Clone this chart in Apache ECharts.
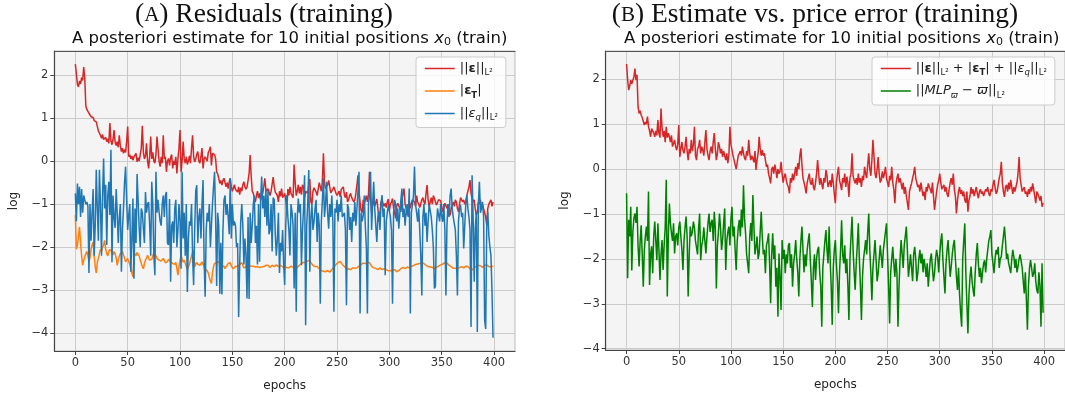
<!DOCTYPE html>
<html><head><meta charset="utf-8">
<script src="https://cdn.jsdelivr.net/npm/echarts@6/dist/echarts.min.js"></script>
<style>html,body{margin:0;padding:0;background:#fff}#c{width:1065px;height:400px}</style>
</head><body><div id="c"></div>
<script>
// ---------- DATA ----------
const xTicks = [0, 50, 100, 150, 200, 250, 300, 350, 400];
const yTicks = [-4, -3, -2, -1, 0, 1, 2];

// Panel A: ||eps||_L2 (red)
const resEps = [
 2.25,2.02,1.78,1.72,1.86,1.79,1.94,1.87,2.18,1.93,
 1.28,1.2,1.16,1.11,1.08,1.03,0.99,1.01,0.94,0.96,
 0.91,0.95,0.7,0.74,0.6,0.53,0.62,0.5,0.47,0.55,
 0.45,0.52,0.41,0.88,0.47,0.38,0.5,0.72,0.44,0.36,
 0.45,0.32,0.6,0.35,0.22,0.3,0.18,0.27,0.2,0.45,
 0.8,0.1,0.15,0.05,0.12,0.02,0.1,0.06,0.18,-0.02,
 0.08,0.0,0.15,0.3,0.82,0.2,0.05,0.12,0.41,0.0,
 -0.17,0.1,0.57,0.05,0.2,0.0,-0.05,0.15,0.57,0.28,
 0.0,-0.13,0.1,-0.05,0.6,0.05,0.1,-0.25,0.0,0.06,
 -0.1,0.08,0.15,-0.17,0.0,-0.09,0.1,-0.29,0.05,0.3,
 0.72,-0.25,0.0,0.45,0.05,-0.05,0.1,-0.08,0.0,0.12,
 -0.05,0.3,0.6,0.1,-0.02,0.05,0.15,0.22,0.0,-0.05,
 0.1,0.3,-0.17,0.05,0.1,0.14,0.0,0.2,0.25,0.33,
 -0.1,0.18,0.2,0.15,0.05,-0.25,-0.3,-0.4,-0.52,-0.45,
 -0.56,-0.45,-0.4,-0.4,-0.6,-0.5,-0.64,-0.48,-0.4,-0.6,
 -0.7,-0.71,-0.55,-0.66,-0.63,-0.72,-0.6,-0.78,-0.62,-0.7,
 -0.55,-0.48,-0.6,-0.65,-0.6,-0.45,-0.29,0.14,-0.35,-0.7,
 -0.75,-0.85,-0.95,-0.8,-0.7,-0.86,-0.75,-0.9,-0.88,-0.75,
 -0.6,-0.4,-0.65,-0.7,-0.64,-0.72,-0.8,-0.7,-0.73,-0.37,
 -0.6,-0.72,-0.73,-0.8,-0.95,-0.7,-0.82,-0.64,-0.85,-0.87,
 -0.75,-0.9,-1.18,-0.65,-0.8,-0.6,-0.75,-0.72,-0.85,-0.08,
 -0.5,-0.8,-0.7,-0.55,-0.75,-0.6,-0.78,-0.55,-0.6,-0.85,
 -0.7,-0.68,-0.75,-0.55,-0.42,-0.95,-1.0,-0.7,-0.62,-0.6,
 -0.72,-0.8,-0.78,-0.5,-0.48,-0.7,-0.45,0.18,-0.5,-0.64,
 -0.62,-0.55,-0.45,-0.6,-0.74,-0.72,-0.65,-0.6,-0.64,-0.75,
 -0.8,-0.84,-0.7,-0.83,-0.66,-0.64,-0.6,-0.78,-0.85,-0.72,
 -0.95,-0.9,-0.8,-0.75,-0.85,-0.87,-0.95,-0.9,-0.75,-0.55,
 -0.33,-0.7,-0.95,-1.15,-1.2,-0.9,-1.0,-1.02,-0.8,-0.95,
 -0.78,-0.25,-0.85,-1.2,-1.0,-0.92,-1.05,-1.02,-0.88,-1.1,
 -1.41,-1.2,-0.95,-0.9,-1.0,-1.05,-0.98,-1.08,-0.95,-0.88,
 -1.15,-1.0,-0.95,-0.87,-1.1,-1.2,-1.33,-1.05,-0.98,-0.95,
 -1.1,-1.18,-0.9,-0.75,-0.64,-1.0,-1.1,-1.26,-1.05,-0.95,
 -1.1,-0.98,-0.9,-0.87,-0.95,-1.05,-0.8,-0.95,-1.0,-1.08,
 -1.1,-0.9,-0.85,-0.95,-1.0,-0.75,-0.56,-0.9,-1.05,-0.95,
 -0.85,-1.0,-0.8,-0.79,-0.95,-1.02,-1.05,-0.9,-0.87,-0.92,
 -1.05,-1.18,-1.15,-0.98,-0.95,-1.1,-1.0,-1.2,-1.26,-1.1,
 -1.02,-0.95,-1.05,-0.9,-0.95,-1.1,-1.18,-1.0,-0.85,-0.87,
 -0.95,-0.9,-1.0,-0.95,-0.8,-0.7,-0.6,-0.44,-0.75,-0.87,
 -0.95,-0.9,-1.1,-1.26,-1.2,-0.95,-1.0,-0.9,-1.1,-1.02,
 -1.0,-1.2,-1.3,-1.49,-1.1,-1.0,-1.02,-0.9,-1.05,-0.95
];

// Panel A: |eps_T| (orange)
const resEpsT = [
 -1.25,-2.05,-1.95,-1.75,-1.53,-1.9,-2.2,-2.42,-2.3,-2.26,
 -2.15,-2.1,-2.2,-2.32,-2.25,-2.05,-1.95,-1.88,-2.2,-2.45,
 -2.6,-2.35,-2.26,-2.15,-2.05,-2.1,-2.0,-1.95,-1.84,-2.05,
 -2.15,-2.2,-2.1,-2.05,-2.03,-2.12,-2.18,-2.1,-2.15,-2.25,
 -2.42,-2.3,-2.2,-2.15,-2.12,-2.1,-2.18,-2.25,-2.34,-2.3,
 -2.26,-2.3,-2.4,-2.5,-2.6,-2.69,-2.2,-2.15,-2.2,-2.12,
 -2.1,-2.2,-2.3,-2.34,-2.45,-2.5,-2.38,-2.3,-2.25,-2.19,
 -2.25,-2.3,-2.34,-2.28,-2.2,-2.12,-2.11,-2.2,-2.26,-2.25,
 -2.3,-2.34,-2.32,-2.28,-2.26,-2.3,-2.36,-2.32,-2.34,-2.28,
 -2.3,-2.33,-2.3,-2.38,-2.42,-2.4,-2.35,-2.5,-2.65,-2.45,
 -2.3,-2.19,-2.28,-2.35,-2.3,-2.34,-2.45,-2.52,-2.5,-2.4,
 -2.3,-2.2,-2.12,-2.07,-2.45,-2.4,-2.35,-2.4,-2.38,-2.42,
 -2.38,-2.34,-2.4,-2.45,-2.5,-2.48,-2.55,-2.6,-2.7,-2.78,
 -2.84,-2.6,-2.45,-2.38,-2.4,-2.35,-2.38,-2.34,-2.4,-2.42,
 -2.45,-2.48,-2.44,-2.5,-2.45,-2.42,-2.38,-2.4,-2.36,-2.44,
 -2.48,-2.5,-2.46,-2.44,-2.42,-2.45,-2.42,-2.4,-2.38,-2.36,
 -2.4,-2.48,-2.5,-2.46,-2.4,-2.38,-2.42,-2.45,-2.44,-2.42,
 -2.44,-2.42,-2.46,-2.48,-2.45,-2.44,-2.47,-2.45,-2.46,-2.48,
 -2.45,-2.43,-2.42,-2.44,-2.42,-2.45,-2.47,-2.44,-2.42,-2.43,
 -2.45,-2.42,-2.41,-2.43,-2.45,-2.44,-2.42,-2.44,-2.46,-2.45,
 -2.46,-2.48,-2.47,-2.5,-2.48,-2.46,-2.44,-2.45,-2.47,-2.48,
 -2.46,-2.45,-2.47,-2.44,-2.42,-2.4,-2.38,-2.36,-2.35,-2.37,
 -2.36,-2.34,-2.32,-2.33,-2.3,-2.36,-2.4,-2.42,-2.44,-2.45,
 -2.43,-2.45,-2.48,-2.5,-2.52,-2.54,-2.55,-2.56,-2.55,-2.57,
 -2.55,-2.54,-2.56,-2.58,-2.55,-2.52,-2.5,-2.46,-2.42,-2.4,
 -2.38,-2.36,-2.35,-2.33,-2.36,-2.4,-2.42,-2.45,-2.47,-2.5,
 -2.52,-2.5,-2.53,-2.52,-2.5,-2.48,-2.47,-2.49,-2.5,-2.48,
 -2.46,-2.44,-2.42,-2.4,-2.38,-2.37,-2.36,-2.38,-2.36,-2.35,
 -2.34,-2.36,-2.4,-2.44,-2.46,-2.48,-2.47,-2.49,-2.5,-2.52,
 -2.5,-2.48,-2.5,-2.52,-2.53,-2.5,-2.49,-2.52,-2.54,-2.55,
 -2.53,-2.54,-2.56,-2.55,-2.53,-2.52,-2.55,-2.57,-2.56,-2.54,
 -2.52,-2.5,-2.48,-2.47,-2.49,-2.5,-2.48,-2.46,-2.47,-2.48,
 -2.46,-2.44,-2.45,-2.43,-2.42,-2.4,-2.41,-2.39,-2.4,-2.38,
 -2.37,-2.36,-2.35,-2.38,-2.4,-2.42,-2.44,-2.45,-2.47,-2.46,
 -2.45,-2.47,-2.49,-2.5,-2.48,-2.47,-2.46,-2.44,-2.42,-2.41,
 -2.4,-2.39,-2.37,-2.36,-2.35,-2.37,-2.4,-2.42,-2.44,-2.45,
 -2.47,-2.49,-2.5,-2.49,-2.51,-2.5,-2.48,-2.47,-2.46,-2.45,
 -2.47,-2.48,-2.46,-2.44,-2.43,-2.45,-2.47,-2.5,-2.52,-2.53,
 -2.5,-2.48,-2.46,-2.44,-2.45,-2.42,-2.41,-2.43,-2.45,-2.47,
 -2.44,-2.42,-2.4,-2.41,-2.43,-2.45,-2.44,-2.46,-2.45,-2.44
];

// Panel A: ||eps_q||_L2 (blue)
const resEpsQ = [
 -0.75,-1.4,-0.52,-1.0,-0.6,-1.3,-0.65,-1.2,-0.8,-0.9,
 -1.0,-0.95,-1.05,-2.6,-1.0,-1.85,-1.2,-0.65,-2.2,-1.5,
 -0.2,-1.1,-1.85,-0.2,-1.0,-2.2,-0.8,0.06,-1.1,-0.55,
 -1.95,-0.8,-0.48,-1.25,0.26,-2.35,-0.8,-1.3,-1.55,-0.65,
 -1.2,-1.9,-1.3,-1.0,-2.57,-1.6,-1.1,-0.5,-0.13,-0.9,
 -1.6,-1.25,-1.0,-2.57,-1.8,-0.87,-2.73,-1.1,-1.9,-0.3,
 -0.29,-1.57,-2.0,-1.1,-1.2,-1.57,-1.9,-0.72,-1.2,-1.0,
 -0.95,-1.5,-2.2,-0.48,-1.0,-2.2,-2.65,-0.25,-1.2,-0.9,
 -1.18,-1.4,-1.5,-1.0,-0.8,-1.3,-0.8,-0.72,-1.9,-1.95,
 -0.88,-2.8,-1.5,-1.4,-1.9,-1.1,-0.9,-2.0,-1.6,-1.0,
 -1.4,-2.5,-0.25,-1.8,-1.2,-2.2,-1.0,-3.04,-1.8,-1.4,
 -1.5,-1.0,-2.2,-2.88,-1.6,-0.7,-0.56,-1.9,-1.3,-1.1,
 -1.8,-1.0,-0.44,-2.3,-3.15,-1.6,-1.2,-1.4,-1.0,-2.0,
 -1.5,-1.0,-0.6,-0.25,-1.3,-2.9,-1.2,-1.5,-3.08,-1.9,
 -3.1,-1.6,-0.9,-0.8,-1.25,-1.0,-1.3,-1.7,-0.4,-1.8,
 -1.0,-1.5,-1.4,-1.5,-2.0,-1.9,-3.62,-2.4,-1.4,-1.0,
 -1.5,-2.4,-1.8,-2.2,-3.19,-1.3,-3.2,-1.2,-1.9,-1.5,
 -1.0,-0.8,-1.9,-1.5,-2.4,-1.0,-2.34,-0.9,-0.36,-1.1,
 -0.8,-1.3,-0.65,-1.5,-0.7,-1.7,-1.6,-1.0,-2.1,-0.85,
 -0.9,-1.7,-2.2,-1.8,-1.2,-2.6,-1.9,-2.1,-1.6,-2.4,
 -2.88,-1.5,-0.79,-1.3,-1.6,-2.19,-1.0,-1.18,-1.5,-2.96,
 -1.2,-3.5,-1.3,-0.87,-1.2,-1.0,-2.42,-1.6,-1.1,-0.33,
 -3.81,-1.5,-1.0,-0.21,-2.57,-1.3,-1.0,-1.6,-1.41,-1.1,
 -0.9,-1.88,-1.2,-1.5,-3.31,-1.4,-0.9,-0.4,-1.3,-1.0,
 -0.48,-1.2,-1.57,-1.0,-1.3,-0.8,-1.4,-3.5,-1.1,-1.2,
 -0.9,-1.4,-1.0,-1.18,-0.8,-1.3,-1.34,-1.2,-1.6,-3.35,
 -1.0,-1.1,-1.6,-1.3,-1.88,-1.2,-1.4,-0.95,-1.5,-1.1,
 -0.7,-0.25,-3.54,-1.2,-1.4,-1.26,-0.8,-1.5,-2.0,-3.54,
 -1.0,-0.8,-0.25,-1.6,-1.0,-0.48,-1.1,-1.5,-1.88,-1.3,
 -1.18,-1.6,-1.0,-0.79,-1.3,-1.1,-2.65,-1.4,-1.2,-1.02,
 -1.02,-1.3,-1.6,-3.31,-1.2,-0.9,-1.02,-1.4,-1.1,-1.57,
 -1.2,-0.9,-0.64,-1.3,-1.1,-1.5,-1.18,-1.0,-1.3,-0.64,
 -3.54,-1.2,-1.02,-0.8,-0.13,-1.0,-1.2,-1.41,-1.1,-1.6,
 -2.2,-3.12,-1.3,-1.0,-1.5,-1.2,-1.88,-1.4,-1.0,-1.02,
 -1.3,-1.6,-2.0,-2.96,-2.9,-1.5,-1.1,-1.1,-1.4,-1.0,
 -1.3,-1.41,-1.0,-1.6,-3.12,-1.5,-1.0,-1.3,-0.8,-0.64,
 -1.1,-1.3,-1.26,-1.6,-2.2,-3.12,-1.4,-1.1,-1.02,-1.3,
 -1.2,-2.03,-1.5,-1.0,-0.79,-1.1,-1.3,-1.6,-3.85,-0.33,
 -1.3,-2.8,-1.57,-1.2,-3.97,-1.0,-0.48,-1.2,-1.1,-0.95,
 -1.3,-3.7,-3.9,-1.5,-1.18,-1.72,-2.0,-2.19,-3.0,-4.1
];

// Panel B: ||eps||+|eps_T|+||eps_q|| (red)
const estSum = [
 2.34,2.0,1.76,1.85,1.98,1.9,1.88,2.05,2.24,1.98,
 2.1,1.39,1.24,1.3,1.2,1.15,1.13,0.98,1.05,1.0,
 1.17,0.95,0.85,0.72,0.9,0.87,0.8,0.72,0.85,0.75,
 1.09,0.8,0.7,1.35,0.9,0.72,0.85,0.6,0.94,0.7,
 0.8,0.72,0.6,0.75,0.5,0.57,0.65,0.5,0.42,0.55,
 0.98,0.27,0.45,0.6,0.42,0.35,0.5,0.72,0.4,0.2,
 0.45,0.35,0.65,0.4,0.55,0.94,0.3,0.2,0.45,0.5,
 0.65,0.35,0.5,0.42,0.3,0.6,0.87,0.45,0.3,0.2,
 0.4,0.5,0.35,0.6,0.8,0.45,0.2,0.35,0.6,0.5,
 0.35,0.45,0.27,0.4,0.3,0.2,0.35,0.13,0.3,0.94,
 0.55,0.42,0.3,0.2,0.1,0.0,0.15,0.3,0.27,0.4,
 0.3,0.5,0.35,0.25,0.2,0.4,0.3,0.65,0.35,0.2,
 0.3,0.27,0.15,0.4,-0.02,0.2,0.35,0.72,0.45,0.3,
 0.42,0.3,0.35,0.2,0.05,0.1,-0.1,-0.2,-0.32,0.0,
 0.05,-0.1,0.1,-0.02,-0.2,0.0,-0.1,-0.05,0.16,-0.1,
 -0.3,-0.17,-0.1,-0.25,-0.35,-0.4,-0.54,-0.2,-0.3,-0.1,
 -0.25,-0.1,0.05,-0.15,0.13,0.0,0.3,0.46,0.1,-0.2,
 -0.24,-0.4,-0.54,-0.3,-0.2,-0.1,-0.3,-0.35,-0.2,-0.4,
 -0.47,-0.3,-0.1,0.2,-0.1,-0.35,-0.2,-0.24,-0.45,-0.2,
 -0.3,-0.02,-0.15,-0.4,-0.32,-0.25,-0.4,-0.1,-0.3,-0.55,
 -0.76,-0.3,-0.1,0.05,-0.25,-0.35,-0.47,-0.2,-0.3,-0.1,
 -0.4,-0.17,-0.3,-0.62,-0.2,-0.1,0.35,-0.15,-0.25,-0.32,
 -0.2,-0.35,-0.1,-0.3,-0.2,-0.4,-0.15,-0.25,0.05,-0.1,
 -0.2,0.1,0.35,0.0,-0.15,0.2,0.65,0.3,-0.1,-0.2,
 0.0,0.27,-0.1,-0.3,-0.24,-0.05,-0.2,-0.1,0.05,-0.2,
 -0.3,-0.4,-0.15,-0.25,0.05,-0.3,-0.45,-0.76,-0.35,-0.2,
 -0.1,-0.3,-0.2,-0.32,-0.45,-0.3,-0.55,-0.4,-0.6,-0.75,
 -0.91,-0.5,-0.4,-0.32,-0.2,-0.1,0.05,-0.2,-0.3,-0.4,
 -0.35,-0.5,-0.3,-0.45,-0.6,-0.5,-0.69,-0.4,-0.5,-0.32,
 -0.4,-0.45,-0.54,-0.3,-0.6,-0.91,-0.7,-0.5,-0.35,-0.25,
 -0.1,-0.3,-0.45,-0.47,-0.35,-0.5,-0.4,-0.55,-0.62,-0.45,
 -0.3,-0.2,-0.35,-0.1,-0.45,-0.6,-0.99,-0.7,-0.5,-0.4,
 -0.55,-0.47,-0.6,-0.5,-0.69,-0.75,-0.5,-0.95,-0.7,-0.6,
 -0.4,-0.55,-0.45,-0.6,-0.5,-0.4,-0.54,-0.65,-0.5,-0.45,
 -0.55,-0.5,-0.6,-0.62,-0.45,-0.5,-0.4,-0.55,-0.6,-0.45,
 -0.5,-0.35,-0.24,-0.4,-0.55,-0.5,-0.35,-0.2,-0.1,0.16,
 -0.3,-0.5,-0.62,-0.4,-0.35,-0.5,-0.3,-0.45,-0.24,-0.4,
 -0.55,-0.4,-0.5,-0.54,-0.3,-0.1,0.27,-0.2,-0.35,-0.5,
 -0.45,-0.4,-0.55,-0.5,-0.62,-0.45,-0.55,-0.4,-0.5,-0.32,
 -0.45,-0.6,-0.76,-0.5,-0.55,-0.62,-0.7,-0.6,-0.84,-0.75
];

// Panel B: ||MLP_varpi - varpi||_L2 (green)
const priceErr = [
 -0.54,-2.43,-1.13,-1.5,-0.84,-2.26,-1.4,-1.1,-0.99,-1.2,
 -0.84,-1.72,-2.17,-1.6,-1.25,-1.9,-2.62,-1.8,-1.5,-1.28,
 -1.6,-0.5,-2.58,-1.9,-1.72,-2.32,-1.5,-1.17,-1.6,-2.03,
 -1.21,-1.8,-2.47,-1.9,-1.58,-2.25,-1.7,-1.3,-0.24,-2.84,
 -1.5,-0.77,-1.2,-1.43,-1.6,-1.21,-1.88,-1.5,-1.43,-1.7,
 -1.3,-1.17,-1.5,-1.8,-2.25,-1.6,-1.3,-1.06,-1.5,-2.84,
 -1.9,-1.28,-1.5,-1.4,-1.17,-1.3,-1.6,-1.58,-1.9,-1.3,
 -0.99,-2.03,-1.7,-1.58,-1.3,-1.6,-1.88,-1.5,-1.2,-0.99,
 -1.4,-1.2,-1.13,-1.6,-0.95,-1.3,-2.66,-1.7,-1.4,-0.99,
 -1.3,-1.8,-1.58,-1.2,-0.88,-2.25,-1.6,-1.4,-1.28,-1.7,
 -1.1,-0.84,-1.5,-1.28,-1.8,-2.25,-1.6,-1.3,-1.13,-1.5,
 -0.9,-1.3,-0.36,-1.1,-1.43,-1.9,-2.1,-2.32,-1.5,-1.2,
 -1.6,-0.58,-1.3,-1.9,-1.73,-1.5,-2.0,-1.88,-1.4,-0.95,
 -1.5,-1.9,-1.8,-2.32,-1.7,-1.6,-1.43,-2.1,-2.99,-1.9,
 -1.43,-2.0,-1.7,-2.62,-2.2,-3.29,-1.88,-2.4,-3.14,-1.58,
 -2.0,-1.8,-2.32,-1.9,-2.1,-1.7,-1.65,-2.2,-1.9,-2.62,
 -2.1,-1.9,-1.58,-2.0,-2.3,-2.84,-2.0,-1.6,-1.28,-1.8,
 -2.3,-1.9,-2.17,-1.8,-1.6,-1.43,-2.0,-2.5,-3.07,-2.2,
 -1.9,-2.47,-2.0,-1.8,-1.73,-2.3,-2.6,-3.51,-2.2,-1.9,
 -1.6,-1.36,-1.8,-2.1,-1.28,-2.0,-2.6,-3.47,-2.2,-1.8,
 -1.58,-2.1,-2.5,-3.21,-2.3,-1.8,-1.14,-1.9,-2.1,-1.7,
 -2.32,-2.0,-2.6,-3.36,-2.0,-1.5,-1.06,-1.8,-2.3,-2.69,
 -2.1,-1.7,-1.21,-2.0,-2.6,-3.36,-2.4,-2.0,-1.8,-1.58,
 -1.9,-1.4,-0.99,-1.8,-2.3,-2.92,-2.2,-1.9,-1.58,-2.0,
 -2.5,-2.32,-2.0,-1.7,-1.95,-2.2,-1.8,-1.6,-1.4,-1.21,
 -1.9,-2.6,-3.44,-2.3,-2.0,-1.73,-2.1,-2.4,-2.0,-2.32,
 -3.51,-2.6,-2.0,-1.58,-1.9,-2.2,-1.7,-1.5,-1.28,-1.8,
 -2.4,-2.17,-1.9,-2.2,-2.5,-1.9,-1.73,-2.0,-2.5,-2.32,
 -2.0,-1.8,-2.1,-1.88,-2.3,-2.0,-2.17,-2.4,-2.1,-2.62,
 -2.3,-2.0,-1.88,-2.2,-2.5,-2.32,-2.0,-1.8,-1.95,-2.3,
 -1.9,-1.6,-1.43,-2.0,-2.4,-2.77,-2.1,-1.8,-1.58,-2.0,
 -2.4,-2.17,-1.9,-1.7,-1.58,-2.0,-2.4,-2.69,-2.2,-2.8,
 -3.2,-3.51,-2.0,-1.6,-1.21,-2.3,-3.0,-3.66,-2.8,-2.4,
 -2.17,-2.5,-2.7,-2.84,-2.3,-1.9,-1.65,-2.1,-2.4,-2.2,
 -2.54,-2.3,-2.1,-2.03,-2.3,-2.0,-1.8,-1.6,-1.5,-1.36,
 -1.9,-2.1,-2.32,-2.0,-1.8,-1.9,-1.73,-2.2,-2.0,-1.95,
 -1.7,-1.5,-1.28,-1.6,-2.0,-1.88,-2.1,-2.2,-2.32,-2.0,
 -1.8,-1.95,-2.2,-2.0,-2.3,-2.17,-2.0,-1.9,-1.88,-2.2,
 -2.5,-2.77,-2.3,-2.9,-3.58,-2.6,-2.2,-2.03,-2.2,-2.4,
 -2.32,-2.1,-2.5,-2.7,-2.77,-2.3,-2.6,-3.51,-2.1,-3.2
];

// ---------- CHART ----------
const pairs = arr => arr.map((v, i) => [i, v]);
const SANS = 'DejaVu Sans';
const SERIF = 'Liberation Serif';
const fmtY = v => (v < 0 ? '\u2212' + Math.abs(v) : String(v));
const LF = 13;
const legendRich = {
  t: {fontFamily: SANS, fontSize: LF, color: '#222', lineHeight: 18},
  b: {fontFamily: SANS, fontSize: LF, fontWeight: 'bold', color: '#222', lineHeight: 18},
  i: {fontFamily: SANS, fontSize: LF, fontStyle: 'italic', color: '#222', lineHeight: 18},
  s: {fontFamily: SANS, fontSize: 8.5, color: '#222', lineHeight: 9, verticalAlign: 'bottom'},
  bs: {fontFamily: SANS, fontSize: 8.5, fontWeight: 'bold', color: '#222', lineHeight: 9, verticalAlign: 'bottom'},
  is: {fontFamily: SANS, fontSize: 8.5, fontStyle: 'italic', color: '#222', lineHeight: 9, verticalAlign: 'bottom'}
};
const legendText = {
  'eps': '{t|||}{b|\u03B5}{t|||}{s|L\u00B2}',
  'epsT': '{t||}{b|\u03B5}{bs|T}{t||}',
  'epsQ': '{t|||}{i|\u03B5}{is|q}{t|||}{s|L\u00B2}',
  'sum': '{t|||}{b|\u03B5}{t|||}{s|L\u00B2}{t| + |}{b|\u03B5}{bs|T}{t|| + ||}{i|\u03B5}{is|q}{t|||}{s|L\u00B2}',
  'mlp': '{t|||}{i|MLP}{is|\u03D6}{t| \u2212 }{i|\u03D6}{t|||}{s|L\u00B2}'
};

function xAxisFor(gi) {
  return {
    type: 'value', gridIndex: gi, min: -20, max: 420,
    name: 'epochs', nameLocation: 'middle', nameGap: 29,
    nameTextStyle: {fontFamily: SANS, fontSize: 12, color: '#222'},
    axisLine: {show: true, onZero: false, lineStyle: {color: '#444', width: 1.2}},
    axisTick: {show: true, length: 4, customValues: xTicks, lineStyle: {color: '#444'}},
    axisLabel: {customValues: xTicks, fontFamily: SANS, fontSize: 11.5, color: '#333', margin: 6},
    splitLine: {show: true, lineStyle: {color: '#cbcbcb', width: 1}}
  };
}
function yAxisFor(gi, min, max) {
  return {
    type: 'value', gridIndex: gi, min: min, max: max,
    name: 'log', nameLocation: 'middle', nameGap: 35,
    nameTextStyle: {fontFamily: SANS, fontSize: 12, color: '#222'},
    axisLine: {show: true, onZero: false, lineStyle: {color: '#444', width: 1.2}},
    axisTick: {show: true, length: 4, customValues: yTicks, lineStyle: {color: '#444'}},
    axisLabel: {customValues: yTicks, formatter: fmtY, fontFamily: SANS, fontSize: 11.5, color: '#333', margin: 6},
    splitLine: {show: true, lineStyle: {color: '#cbcbcb', width: 1}}
  };
}
function topAxis(gi) {
  return {type: 'value', gridIndex: gi, position: 'top', min: -20, max: 420,
    axisLine: {show: true, onZero: false, lineStyle: {color: '#555', width: 1.2}},
    axisTick: {show: false}, axisLabel: {show: false}, splitLine: {show: false}};
}
function line(name, data, color, xi, yi) {
  return {name: name, type: 'line', xAxisIndex: xi, yAxisIndex: yi, data: pairs(data),
    showSymbol: false, symbol: 'none', animation: false,
    lineStyle: {color: color, width: 1.5}, itemStyle: {color: color}};
}
const titleRich = {p: {fontFamily: SERIF, fontSize: 27.5, fontWeight: 'normal', color: '#111'},
                   sc: {fontFamily: SERIF, fontSize: 21, fontWeight: 'normal', color: '#111'}};
const subRich = {n: {fontFamily: SANS, fontSize: 16.5, fontWeight: 'normal', color: '#111', lineHeight: 19},
                 i: {fontFamily: SANS, fontSize: 16.5, fontWeight: 'normal', fontStyle: 'italic', color: '#111', lineHeight: 19},
                 s: {fontFamily: SANS, fontSize: 11, fontWeight: 'normal', color: '#111', lineHeight: 9, verticalAlign: 'bottom'}};
const legendBase = {orient: 'vertical', itemWidth: 30, itemHeight: 14, itemGap: 7, padding: [5, 8, 5, 8],
  backgroundColor: 'rgba(255,255,255,0.8)', borderColor: '#cccccc', borderWidth: 1, borderRadius: 3,
  itemStyle: {opacity: 0}, lineStyle: {width: 1.5},
  formatter: n => legendText[n], textStyle: {rich: legendRich}};

const chart = echarts.init(document.getElementById('c'), null, {renderer: 'canvas'});
chart.setOption({
  animation: false,
  backgroundColor: '#ffffff',
  title: [
    {text: '{p|(}{sc|A}{p|) Residuals (training)}', left: 259, top: -4, textAlign: 'center',
     textStyle: {fontWeight: 'normal', rich: titleRich}},
    {text: '{p|(}{sc|B}{p|) Estimate vs. price error (training)}', left: 810, top: -4, textAlign: 'center',
     textStyle: {fontWeight: 'normal', rich: titleRich}},
    {text: '{n|A posteriori estimate for 10 initial positions }{i|x}{s|0}{n| (train)}', left: 284.7, top: 24, textAlign: 'center',
     textStyle: {fontWeight: 'normal', rich: subRich}},
    {text: '{n|A posteriori estimate for 10 initial positions }{i|x}{s|0}{n| (train)}', left: 836.7, top: 24, textAlign: 'center',
     textStyle: {fontWeight: 'normal', rich: subRich}}
  ],
  grid: [
    {left: 54.4, top: 51, width: 460.6, height: 300, show: true, backgroundColor: '#f4f4f4', borderColor: '#bbbbbb', borderWidth: 1},
    {left: 605.7, top: 51, width: 462, height: 299, show: true, backgroundColor: '#f4f4f4', borderColor: '#bbbbbb', borderWidth: 1}
  ],
  xAxis: [xAxisFor(0), xAxisFor(1), topAxis(0), topAxis(1)],
  yAxis: [yAxisFor(0, -4.41, 2.555), yAxisFor(1, -4.03, 2.63)],
  legend: [
    Object.assign({data: ['eps', 'epsT', 'epsQ'], left: 416, top: 57}, legendBase),
    Object.assign({data: ['sum', 'mlp'], left: 872, top: 57}, legendBase)
  ],
  series: [
    line('eps', resEps, '#d62728', 0, 0),
    line('epsT', resEpsT, '#ff7f0e', 0, 0),
    line('epsQ', resEpsQ, '#1f77b4', 0, 0),
    line('sum', estSum, '#d62728', 1, 1),
    line('mlp', priceErr, '#008000', 1, 1)
  ]
});
</script>
</body></html>
